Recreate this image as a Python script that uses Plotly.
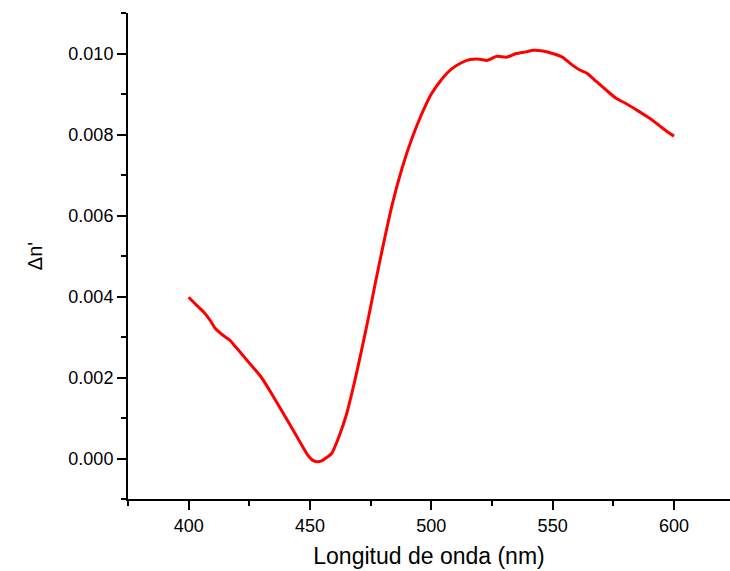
import plotly.graph_objects as go

wavelength = [400, 403, 406, 409, 411, 414, 417, 419, 421, 425, 430, 435, 440, 445, 449,
              451, 453, 455, 457, 459, 462, 465, 468, 471, 474, 477, 480, 484, 488, 492,
              496, 500, 504, 508, 512, 516, 520, 523, 527, 531, 535, 539, 542, 546, 550,
              554, 558, 561, 564, 568, 572, 576, 580, 585, 590, 594, 597, 600]
delta_n = [0.00398, 0.00380, 0.00363, 0.00340, 0.00321, 0.00305, 0.00292, 0.00278, 0.00264,
           0.00236, 0.00200, 0.00152, 0.00101, 0.00050, 0.00009, -0.00004, -0.00008, -0.00005,
           0.00003, 0.00013, 0.00055, 0.00108, 0.00180, 0.00260, 0.00345, 0.00435, 0.00522,
           0.00630, 0.00718, 0.00790, 0.00850, 0.00900, 0.00934, 0.00960, 0.00976, 0.00985,
           0.00986, 0.00983, 0.00993, 0.00991, 0.01000, 0.01004, 0.01008, 0.01006, 0.01000,
           0.00991, 0.00972, 0.00960, 0.00952, 0.00931, 0.00910, 0.00890, 0.00877, 0.00859,
           0.00840, 0.00822, 0.00808, 0.00796]

x_title = "Longitud de onda (nm)"
y_title = "\u0394n'"

fig = go.Figure()
fig.add_trace(go.Scatter(x=wavelength, y=delta_n, mode="lines",
                         line=dict(color="#ff0000", width=3, shape="spline", smoothing=0.6),
                         showlegend=False))

font_family = "Liberation Sans, Arial, sans-serif"
fig.update_layout(
    width=730, height=571,
    margin=dict(l=128, r=0, t=13, b=72),
    paper_bgcolor="white", plot_bgcolor="white",
    font=dict(family=font_family, color="black"),
    xaxis=dict(
        automargin=False,
        range=[375, 623.1], dtick=50, tick0=400,
        showline=True, linewidth=2, linecolor="black",
        ticks="outside", ticklen=9, tickwidth=1.5, tickcolor="black",
        minor=dict(dtick=25, tick0=375, ticks="outside", ticklen=5, tickwidth=1.5, tickcolor="black"),
        showgrid=False, zeroline=False,
        tickfont=dict(size=18),
        title=dict(text=x_title, font=dict(size=23), standoff=13),
    ),
    yaxis=dict(
        automargin=False,
        range=[-0.001, 0.011], dtick=0.002, tick0=0, tickformat=".3f",
        showline=True, linewidth=2, linecolor="black",
        ticks="outside", ticklen=9, tickwidth=1.5, tickcolor="black",
        minor=dict(dtick=0.001, ticks="outside", ticklen=5, tickwidth=1.5, tickcolor="black"),
        showgrid=False, zeroline=False,
        tickfont=dict(size=18),
        title=dict(text=y_title, font=dict(size=20), standoff=20),
    ),
)

fig.write_html(
    "out.html",
    config={"displayModeBar": False},
    post_script="document.body.style.margin='0';document.body.style.overflow='hidden';",
)
